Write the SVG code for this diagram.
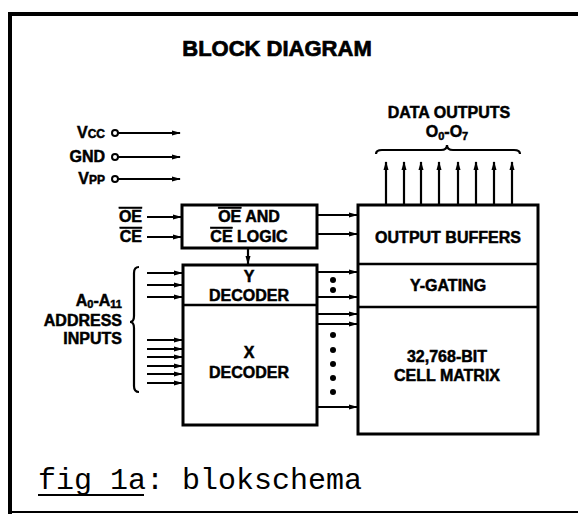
<svg xmlns="http://www.w3.org/2000/svg" width="578" height="514" viewBox="0 0 578 514">
<defs>
<marker id="ah" markerWidth="9" markerHeight="6" refX="8" refY="3" orient="auto" markerUnits="userSpaceOnUse">
<path d="M0,0.5 L9,3 L0,5.5 Z" fill="#000"/>
</marker>
<style>
.lbl{font-family:"Liberation Sans",Arial,sans-serif;font-weight:bold;font-size:16px;fill:#000;stroke:#000;stroke-width:0.5}
.box{fill:#fff;stroke:#000;stroke-width:3}
.ln{stroke:#000;stroke-width:2.2;fill:none}
.ar{stroke:#000;stroke-width:2.2;fill:none;marker-end:url(#ah)}
.dot{fill:#000}
</style>
</defs>
<rect width="578" height="514" fill="#fff"/>
<!-- frame -->
<path d="M10,514 L10,14 L578,14" fill="none" stroke="#000" stroke-width="4"/>
<path d="M8,512 L578,512" stroke="#000" stroke-width="2"/>
<text x="277" y="56" text-anchor="middle" style="font-family:'Liberation Sans',Arial,sans-serif;font-weight:bold;font-size:22px;stroke:#000;stroke-width:0.7">BLOCK DIAGRAM</text>

<g id="power">
<text class="lbl" x="105" y="138" text-anchor="end">V<tspan font-size="12">CC</tspan></text>
<text class="lbl" x="105" y="162" text-anchor="end">GND</text>
<text class="lbl" x="105" y="184" text-anchor="end">V<tspan font-size="12">PP</tspan></text>
<circle cx="115" cy="133" r="3" fill="#fff" stroke="#000" stroke-width="2"/>
<circle cx="115" cy="157" r="3" fill="#fff" stroke="#000" stroke-width="2"/>
<circle cx="115" cy="179" r="3" fill="#fff" stroke="#000" stroke-width="2"/>
</g>

<g id="ce-oe-inputs">
<text class="lbl" x="142" y="222" text-anchor="end" text-decoration="overline">OE</text>
<text class="lbl" x="142" y="242" text-anchor="end" text-decoration="overline">CE</text>
</g>

<g id="oe-ce-logic">
<rect class="box" x="182" y="205" width="135" height="43"/>
<text class="lbl" x="249" y="222" text-anchor="middle"><tspan text-decoration="overline">OE</tspan> AND</text>
<text class="lbl" x="249" y="242" text-anchor="middle"><tspan text-decoration="overline">CE</tspan> LOGIC</text>
</g>

<g id="decoders">
<rect class="box" x="183" y="265" width="134" height="160"/>
<line x1="183" y1="305" x2="317" y2="305" stroke="#000" stroke-width="2.5"/>
<text class="lbl" x="249" y="282" text-anchor="middle">Y</text>
<text class="lbl" x="249" y="301" text-anchor="middle">DECODER</text>
<text class="lbl" x="249" y="358" text-anchor="middle">X</text>
<text class="lbl" x="249" y="378" text-anchor="middle">DECODER</text>
</g>

<g id="memory-block">
<rect class="box" x="358" y="205" width="180" height="229"/>
<line x1="358" y1="264" x2="538" y2="264" stroke="#000" stroke-width="2.5"/>
<line x1="358" y1="307" x2="538" y2="307" stroke="#000" stroke-width="2.5"/>
<text class="lbl" x="448" y="243" text-anchor="middle">OUTPUT BUFFERS</text>
<text class="lbl" x="448" y="291" text-anchor="middle">Y-GATING</text>
<text class="lbl" x="447" y="362" text-anchor="middle">32,768-BIT</text>
<text class="lbl" x="447" y="381" text-anchor="middle">CELL MATRIX</text>
</g>

<g id="address-label">
<text class="lbl" x="122" y="306" text-anchor="end">A<tspan font-size="11" dy="2">0</tspan><tspan dy="-2">-A</tspan><tspan font-size="11" dy="2">11</tspan></text>
<text class="lbl" x="122" y="326" text-anchor="end">ADDRESS</text>
<text class="lbl" x="122" y="344" text-anchor="end">INPUTS</text>
<path class="ln" d="M139,267 Q134,267 134,273 L134,316 Q134,322 130,322 Q134,322 134,328 L134,386 Q134,392 139,392"/>
</g>

<g id="data-output-label">
<text class="lbl" x="449" y="118" text-anchor="middle">DATA OUTPUTS</text>
<text class="lbl" x="447" y="137" text-anchor="middle">O<tspan font-size="11" dy="3">0</tspan><tspan dy="-3">-O</tspan><tspan font-size="11" dy="3">7</tspan></text>
<path class="ln" d="M376,154 Q376,150 382,150 L441,150 Q447,150 447,145 Q447,150 453,150 L514,150 Q520,150 520,154"/>
</g>

<g id="connectors">
<line class="ar" x1="118" y1="133" x2="180" y2="133"/>
<line class="ar" x1="118" y1="157" x2="180" y2="157"/>
<line class="ar" x1="118" y1="179" x2="180" y2="179"/>
<line class="ar" x1="147" y1="217" x2="181" y2="217"/>
<line class="ar" x1="147" y1="237" x2="181" y2="237"/>
<line class="ar" x1="317" y1="215" x2="357" y2="215"/>
<line class="ar" x1="317" y1="234" x2="357" y2="234"/>
<line class="ar" x1="248" y1="249" x2="248" y2="264"/>
<line class="ar" x1="147" y1="273" x2="182" y2="273"/>
<line class="ar" x1="147" y1="285" x2="182" y2="285"/>
<line class="ar" x1="147" y1="297" x2="182" y2="297"/>
<line class="ar" x1="147" y1="340" x2="182" y2="340"/>
<line class="ar" x1="147" y1="349" x2="182" y2="349"/>
<line class="ar" x1="147" y1="357" x2="182" y2="357"/>
<line class="ar" x1="147" y1="366" x2="182" y2="366"/>
<line class="ar" x1="147" y1="374" x2="182" y2="374"/>
<line class="ar" x1="147" y1="383" x2="182" y2="383"/>
<line class="ar" x1="317" y1="272" x2="357" y2="272"/>
<line class="ar" x1="317" y1="297" x2="357" y2="297"/>
<line class="ar" x1="317" y1="314" x2="357" y2="314"/>
<line class="ar" x1="317" y1="324" x2="357" y2="324"/>
<line class="ar" x1="317" y1="407" x2="357" y2="407"/>
<circle class="dot" cx="333" cy="280" r="3"/>
<circle class="dot" cx="333" cy="290" r="3"/>
<circle class="dot" cx="333" cy="335" r="3"/>
<circle class="dot" cx="333" cy="350" r="3"/>
<circle class="dot" cx="333" cy="364" r="3"/>
<circle class="dot" cx="333" cy="378" r="3"/>
<circle class="dot" cx="333" cy="392" r="3"/>
<line class="ar" x1="386" y1="204" x2="386" y2="162"/>
<line class="ar" x1="404" y1="204" x2="404" y2="162"/>
<line class="ar" x1="421" y1="204" x2="421" y2="162"/>
<line class="ar" x1="439" y1="204" x2="439" y2="162"/>
<line class="ar" x1="458" y1="204" x2="458" y2="162"/>
<line class="ar" x1="476" y1="204" x2="476" y2="162"/>
<line class="ar" x1="494" y1="204" x2="494" y2="162"/>
<line class="ar" x1="512" y1="204" x2="512" y2="162"/>
</g>

<g id="caption">
<text x="38" y="489" style="font-family:'Liberation Mono','Courier New',monospace;font-size:30px;fill:#000">fig 1a: blokschema</text>
<line x1="38" y1="495" x2="144" y2="495" stroke="#000" stroke-width="2"/>
</g>
</svg>
